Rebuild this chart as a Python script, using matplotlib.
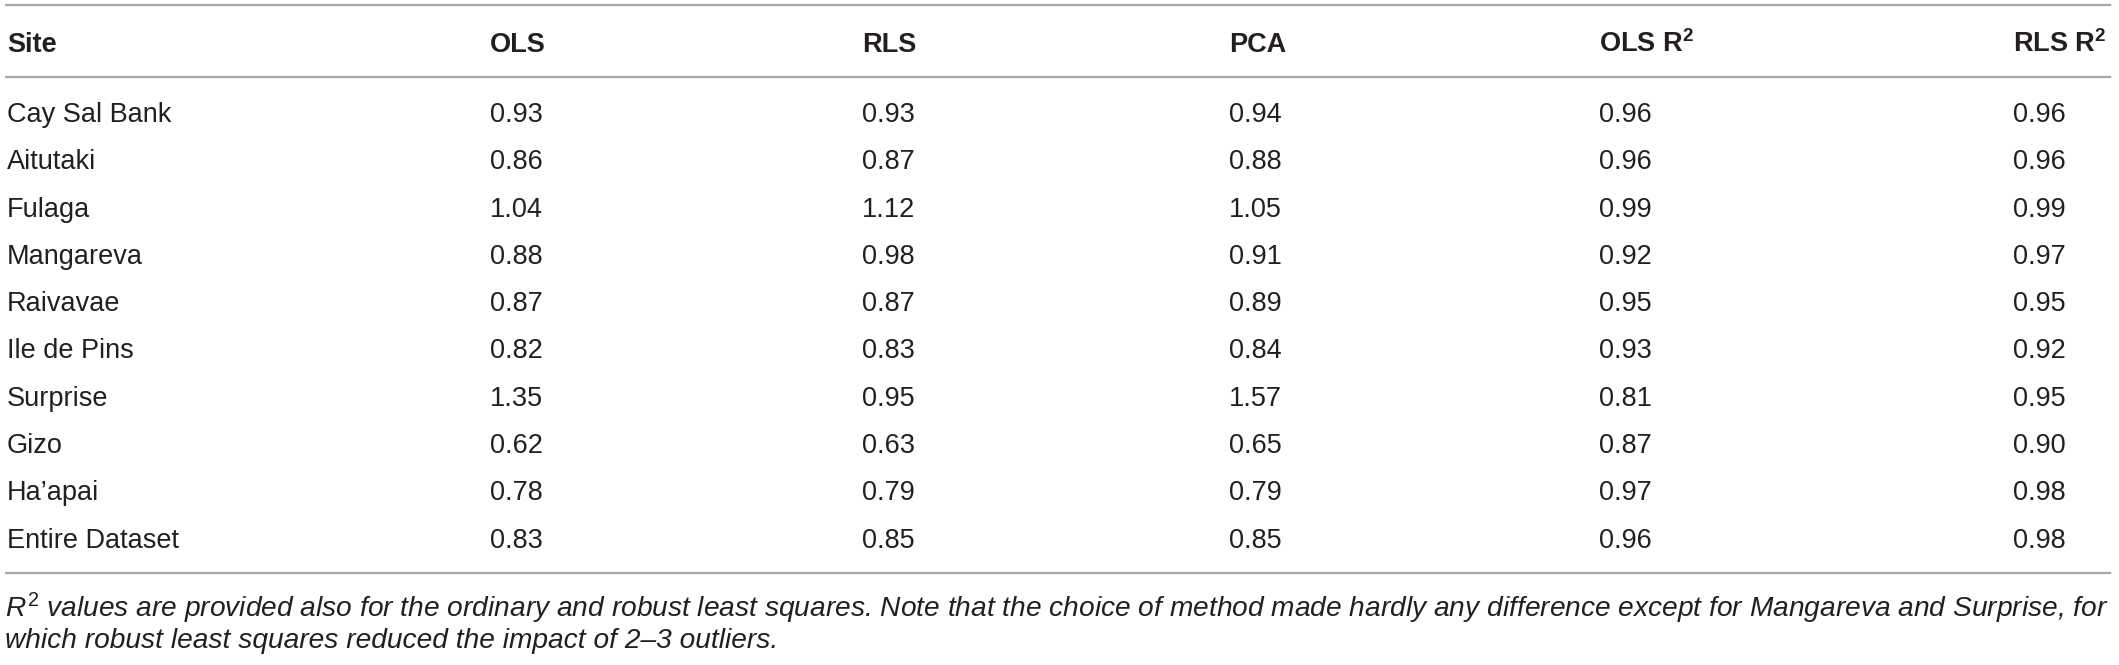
import matplotlib
matplotlib.use("Agg")
import matplotlib.pyplot as plt

plt.rcParams['font.family'] = ['Liberation Sans', 'DejaVu Sans']
plt.rcParams['mathtext.fontset'] = 'custom'
plt.rcParams['mathtext.rm'] = 'Liberation Sans'
plt.rcParams['mathtext.it'] = 'Liberation Sans:italic'
plt.rcParams['mathtext.bf'] = 'Liberation Sans:bold'

# datos de la tabla
sitios = ["Cay Sal Bank", "Aitutaki", "Fulaga", "Mangareva", "Raivavae",
          "Ile de Pins", "Surprise", "Gizo", "Ha\u2019apai", "Entire Dataset"]
ols = [0.93, 0.86, 1.04, 0.88, 0.87, 0.82, 1.35, 0.62, 0.78, 0.83]
rls = [0.93, 0.87, 1.12, 0.98, 0.87, 0.83, 0.95, 0.63, 0.79, 0.85]
pca = [0.94, 0.88, 1.05, 0.91, 0.89, 0.84, 1.57, 0.65, 0.79, 0.85]
ols_r2 = [0.96, 0.96, 0.99, 0.92, 0.95, 0.93, 0.81, 0.87, 0.97, 0.96]
rls_r2 = [0.96, 0.96, 0.99, 0.97, 0.95, 0.92, 0.95, 0.90, 0.98, 0.98]
encabezados = ["Site", "OLS", "RLS", "PCA", r"OLS R$^\mathbf{2}$", r"RLS R$^\mathbf{2}$"]
nota = [r"$R^2$ values are provided also for the ordinary and robust least squares. "
        "Note that the choice of method made hardly any difference except for Mangareva and Surprise, for",
        "which robust least squares reduced the impact of 2\u20133 outliers."]

W, H = 2119, 665
fig = plt.figure(figsize=(W / 100, H / 100), dpi=100)
ax = fig.add_axes([0, 0, 1, 1])
ax.set_xlim(0, W)
ax.set_ylim(H, 0)
ax.axis("off")

color_texto = "#231f20"
color_linea = "#a7a7a7"
x_cols = [7, 490, 862, 1229, 1599, 2013]
fs = 19.5

# líneas horizontales
for y in [5, 77, 573]:
    ax.plot([5, 2111], [y, y], color=color_linea, linewidth=1.6, solid_capstyle="butt")

# encabezado
for x, h in zip(x_cols, encabezados):
    ax.text(x, 52, h, fontsize=fs, fontweight="bold", color=color_texto, va="baseline", ha="left")

# filas
columnas = [ols, rls, pca, ols_r2, rls_r2]
for i, sitio in enumerate(sitios):
    yb = 122 + i * 47.3
    ax.text(x_cols[0], yb, sitio, fontsize=fs, color=color_texto, va="baseline", ha="left")
    for x, col in zip(x_cols[1:], columnas):
        ax.text(x, yb, f"{col[i]:.2f}", fontsize=fs, color=color_texto, va="baseline", ha="left")

# nota al pie, ajustada al ancho de la tabla
t1 = ax.text(5, 617, nota[0], fontsize=17, style="italic", color=color_texto, va="baseline", ha="left")
fig.canvas.draw()
ancho = t1.get_window_extent().width
fs_nota = 17 * 2110 / ancho
t1.set_fontsize(fs_nota)
ax.text(5, 648, nota[1], fontsize=fs_nota, style="italic", color=color_texto, va="baseline", ha="left")

fig.savefig("out.png", dpi=100, facecolor="white")
